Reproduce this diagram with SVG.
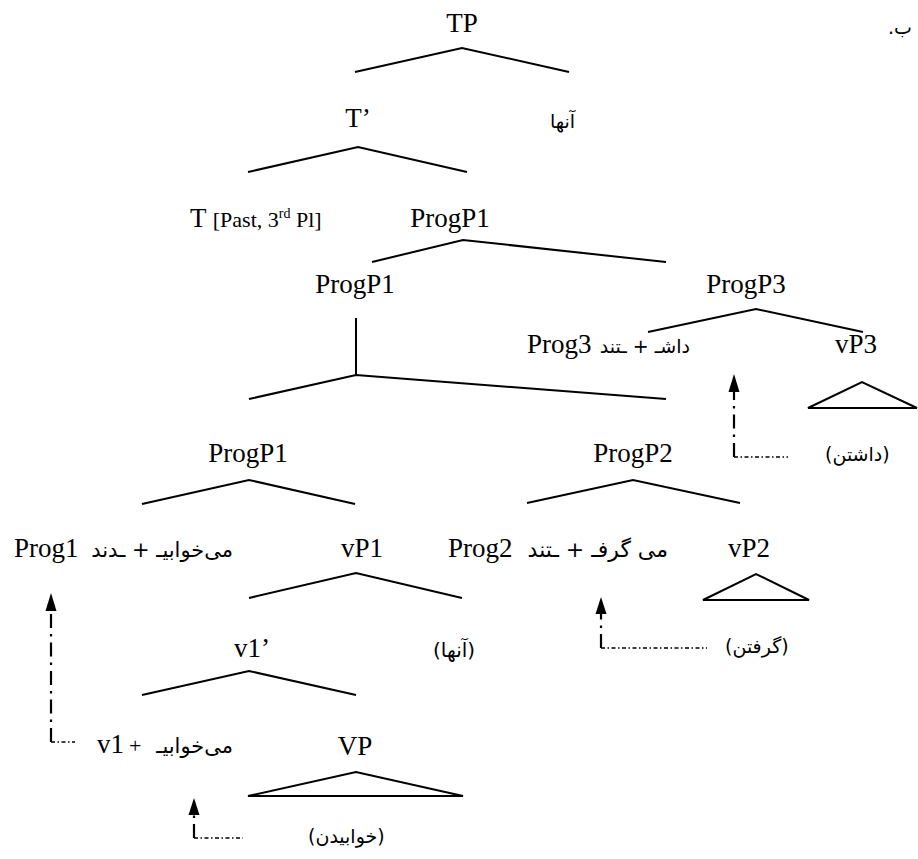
<svg xmlns="http://www.w3.org/2000/svg" width="918" height="859" viewBox="0 0 918 859">
<style>
text{font-family:"Liberation Serif","DejaVu Sans",serif;fill:#000}
.n{font-size:27px;text-anchor:middle}
.l{font-size:27px}
.s{font-size:22px}
.fa{font-size:19px;font-family:"DejaVu Sans","Noto Sans",sans-serif}
.fm{font-size:21px;font-family:"DejaVu Sans","Noto Sans",sans-serif;text-anchor:end}
.e{stroke:#000;stroke-width:2;fill:none}
.mv{stroke:#000;stroke-width:2.2;fill:none;stroke-dasharray:14,6,2.5,6}
.mh{stroke:#000;stroke-width:1.5;fill:none;stroke-dasharray:4,2.5,1.5,2.5}
.ah{fill:#000}
</style>
<rect width="918" height="859" fill="#fff"/>
<text x="888" y="34" style="font-size:19px;font-family:'DejaVu Sans',sans-serif">.ب</text>

<g id="connectors">
<polyline class="e" points="355,72 462,48 569,72"/>
<polyline class="e" points="248,172 358,147 467,172"/>
<polyline class="e" points="372,262 463,240 666,262"/>
<line class="e" x1="356" y1="318" x2="356" y2="375"/>
<polyline class="e" points="249,399 356,375 666,399"/>
<polyline class="e" points="648,332 756,309 863,332"/>
<polygon class="e" points="808,408 862,382 917,408"/>
<polyline class="e" points="142,504 249,480 355,504"/>
<polyline class="e" points="527,503 633,480 740,503"/>
<polyline class="e" points="249,598 356,573 462,598"/>
<polygon class="e" points="703,600 756,574 809,600"/>
<polyline class="e" points="142,695 249,671 356,695"/>
<polygon class="e" points="248,796 356,772 463,796"/>
<!-- movement arrows -->
<line class="mv" x1="734" y1="457" x2="734" y2="391"/>
<polygon class="ah" points="728.5,392 734,374 739.5,392"/>
<line class="mh" x1="734" y1="457" x2="788" y2="457"/>
<line class="mv" x1="601" y1="648" x2="601" y2="613"/>
<polygon class="ah" points="595.5,614 601,597 606.5,614"/>
<line class="mh" x1="601" y1="648" x2="707" y2="648"/>
<line class="mv" x1="51" y1="742" x2="51" y2="610"/>
<polygon class="ah" points="45.5,611 51,593 56.5,611"/>
<line class="mh" x1="51" y1="742" x2="75" y2="742"/>
<line class="mv" x1="194" y1="838" x2="194" y2="814"/>
<polygon class="ah" points="188.5,815 194,798 199.5,815"/>
<line class="mh" x1="194" y1="838" x2="243" y2="838"/>
</g>

<g id="TP"><text class="n" x="462" y="32">TP</text></g>
<g id="Tbar"><text class="n" x="358" y="127">T’</text></g>
<g id="spec"><text class="fa" x="550" y="128">آنها</text></g>
<g id="T"><text class="l" x="190" y="227">T <tspan class="s">[Past, 3<tspan dy="-9" style="font-size:14px">rd</tspan><tspan dy="9"> Pl]</tspan></tspan></text></g>
<g id="ProgP1-top"><text class="n" x="450" y="227">ProgP1</text></g>
<g id="ProgP1-mid"><text class="n" x="355" y="293">ProgP1</text></g>
<g id="ProgP3"><text class="n" x="746" y="293">ProgP3</text></g>
<g id="Prog3"><text class="l" x="527" y="353">Prog3</text><text class="fm" x="690" y="353" style="font-size:19px">داشـ + ـتند</text></g>
<g id="vP3"><text class="n" x="856" y="353">vP3</text></g>
<g id="dashtan"><text class="fa" x="825" y="461">(داشتن)</text></g>
<g id="ProgP1-low"><text class="n" x="248" y="462">ProgP1</text></g>
<g id="ProgP2"><text class="n" x="633" y="462">ProgP2</text></g>
<g id="Prog1"><text class="l" x="14" y="557">Prog1</text><text class="fm" x="233" y="557">می‌خوابیـ + ـدند</text></g>
<g id="vP1"><text class="n" x="362" y="557">vP1</text></g>
<g id="Prog2"><text class="l" x="448" y="557">Prog2</text><text class="fm" x="668" y="557" style="font-size:22px">می گرفـ + ـتند</text></g>
<g id="vP2"><text class="n" x="749" y="557">vP2</text></g>
<g id="v1bar"><text class="n" x="252" y="657">v1’</text></g>
<g id="anha2"><text class="fa" x="433" y="657" style="font-size:20px">(آنها)</text></g>
<g id="gereftan"><text class="fa" x="725" y="653">(گرفتن)</text></g>
<g id="v1"><text class="l" x="97" y="753">v1</text><text x="129" y="753" style="font-size:22px">+</text><text class="fm" x="233" y="753">می‌خوابیـ</text></g>
<g id="VP"><text class="n" x="355" y="755">VP</text></g>
<g id="khabidan"><text class="fa" x="308" y="843">(خوابیدن)</text></g>
</svg>
